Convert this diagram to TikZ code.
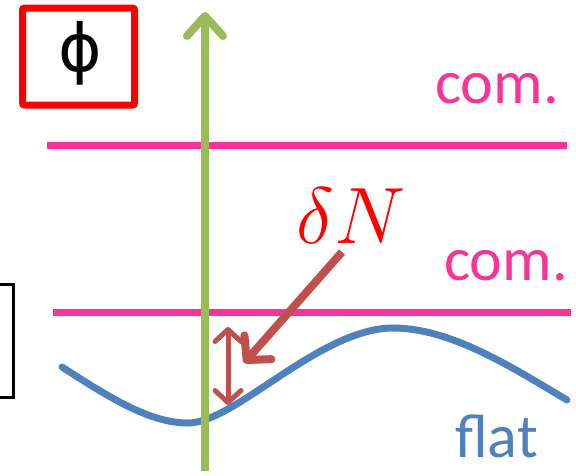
\RequirePackage{fix-cm}
\documentclass[tikz,border=0pt]{standalone}
\usepackage{fontspec}
\setmainfont{Carlito}
\newfontfamily\phifont{DejaVu Sans}
\usetikzlibrary{arrows.meta}
\definecolor{pinkc}{RGB}{247,52,152}
\definecolor{greenc}{RGB}{155,187,89}
\definecolor{bluec}{RGB}{79,129,189}
\definecolor{brickc}{RGB}{192,80,77}
\tikzset{
  level/.style={pinkc, line width=7pt},
  lbl/.style={inner sep=0pt, font=\fontsize{62}{70}\selectfont},
  dnarrow/.style={brickc, line width=8pt, -{Straight Barb[length=17pt, width=36pt, round]}},
}
\begin{document}
\begin{tikzpicture}[x=1pt,y=-1pt]
\useasboundingbox (0,0) rectangle (576,475);
% phi box
\draw[red, line width=7pt, rounded corners=2pt] (22.5,8) rectangle (134.5,105);
\node[inner sep=0pt, font=\phifont\fontsize{66}{70}\selectfont] (phi) at (80,53) {ϕ};
% bracket
\draw[black, line width=3pt] (0,284) -- (13.5,284) -- (13.5,397) -- (0,397);
% pink lines
\coordinate (l1a) at (47,145); \coordinate (l1b) at (567,145);
\coordinate (l2a) at (53,312); \coordinate (l2b) at (571,312);
\draw[level] (l1a) -- (l1b);
\draw[level] (l2a) -- (l2b);
\node[lbl, pinkc, anchor=base east] (com1) at (559,103) {com.};
\node[lbl, pinkc, anchor=base east] (com2) at (568,280) {com.};
% blue curve
\coordinate (c0) at (62,367); \coordinate (cmin) at (188,423);
\coordinate (cmax) at (393,328); \coordinate (c3) at (567,400);
\draw[bluec, line width=7pt, line cap=round]
  (c0) .. controls (110,398) and (150,423) .. (cmin)
       .. controls (235,423) and (320,328) .. (cmax)
       .. controls (450,328) and (510,366) .. (c3);
\node[lbl, bluec, anchor=base east] (flat) at (538,457) {flat};
% green axis
\coordinate (g0) at (205,471); \coordinate (g1) at (205,12);
\draw[greenc, line width=8pt, -{Straight Barb[length=20pt, width=36pt, round]}] (g0) -- (g1);
% delta N
\node[inner sep=0pt, red, anchor=base, font=\fontsize{80}{90}\selectfont] (dN) at (351,243) {$\delta N$};
\coordinate (a0) at (342,252); \coordinate (a1) at (244,363);
\draw[dnarrow] (a0) -- (a1);
\coordinate (d0) at (228,327); \coordinate (d1) at (228,405);
\draw[brickc, line width=5pt, {Straight Barb[length=12pt, width=26pt, round]}-{Straight Barb[length=12pt, width=26pt, round]}] (d0) -- (d1);
\end{tikzpicture}
\end{document}
